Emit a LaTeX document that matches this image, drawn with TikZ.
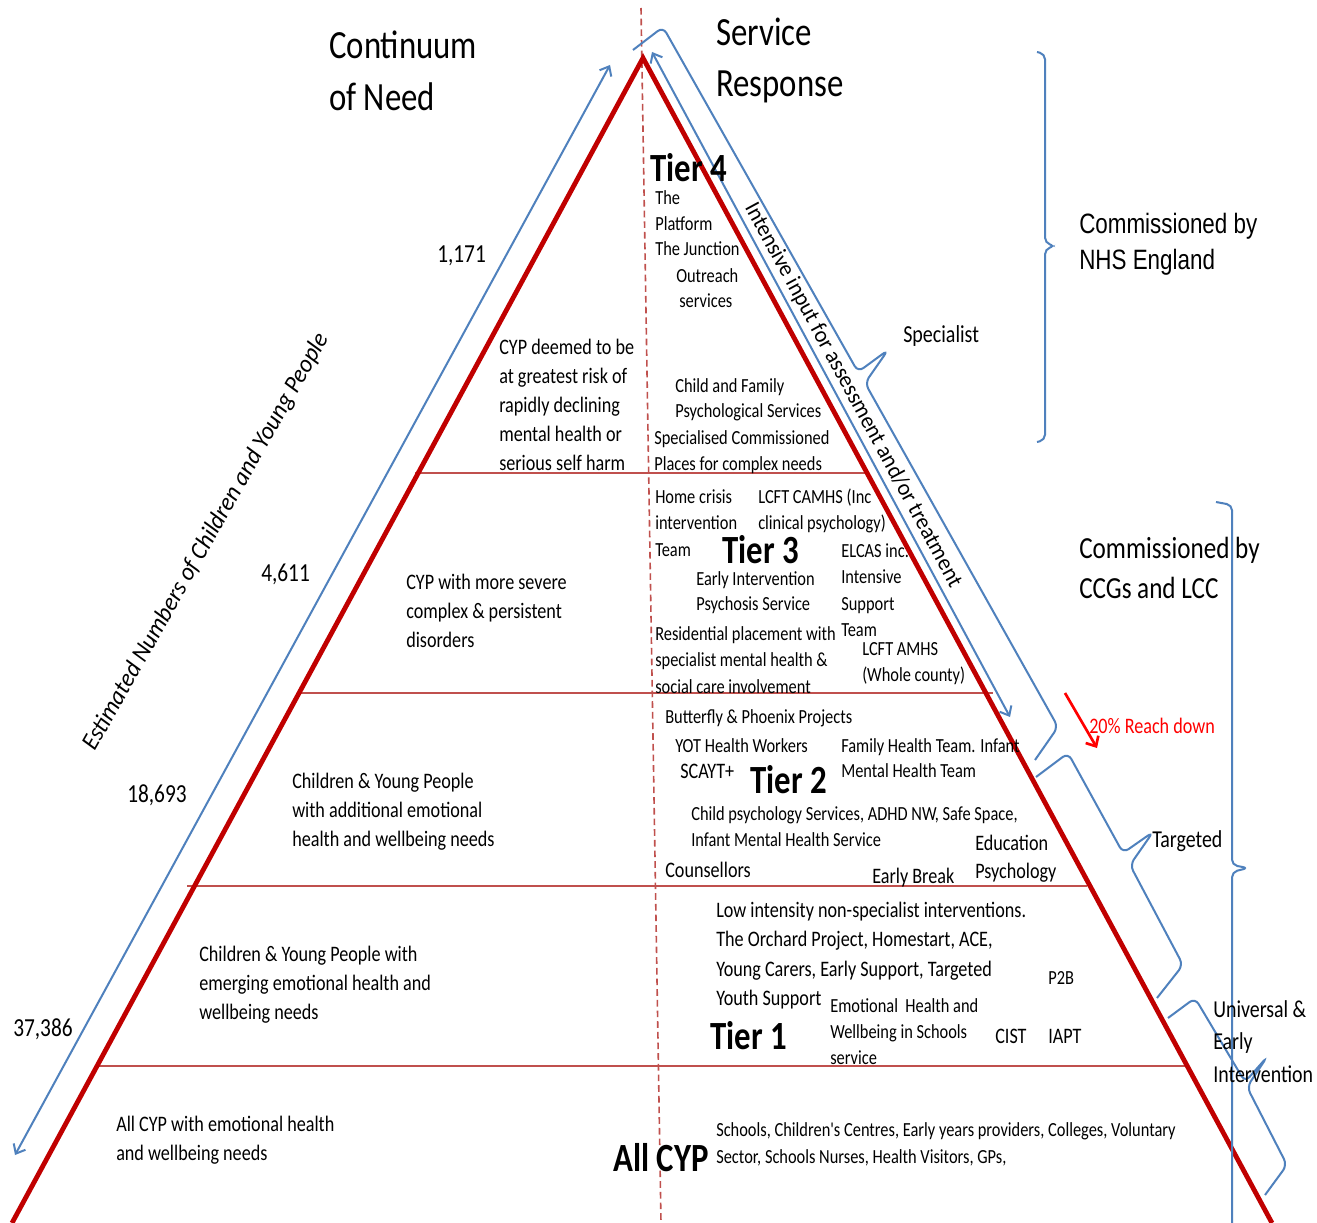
\documentclass[tikz,border=0pt]{standalone}
\usepackage{fontspec}
\setmainfont{Carlito}
\newfontfamily\cn[FakeStretch=0.82]{Carlito}
\newfontfamily\rt[FakeStretch=0.96]{Carlito}
\newfontfamily\ar[FakeStretch=0.8]{Liberation Sans}
\usetikzlibrary{arrows.meta}
\definecolor{tred}{HTML}{C00000}
\definecolor{lred}{HTML}{C0504D}
\definecolor{oblue}{HTML}{4F81BD}
\definecolor{brred}{HTML}{FF0000}
\newcommand\tlines[6]{\foreach \tline [count=\ix from 0] in {#6} {\node[#2] (#1\ix) at (#3,{#4+\ix*#5}) {\tline};}}
\tikzset{
  tx/.style={inner sep=0pt, anchor=base west, text=black},
  fa/.style={tx, font=\cn\fontsize{15}{18}\selectfont},
  fb/.style={tx, font=\cn\fontsize{16.6}{20}\selectfont},
  fnum/.style={tx, font=\cn\fontsize{19.5}{23}\selectfont},
  ftitle/.style={tx, font=\cn\fontsize{30}{36}\selectfont},
  ftier/.style={tx, font=\cn\bfseries\fontsize{30}{35}\selectfont},
  fspec/.style={tx, font=\cn\fontsize{18.3}{22}\selectfont},
  fnhs/.style={tx, font=\ar\fontsize{21}{25}\selectfont},
  fccg/.style={tx, font=\cn\fontsize{23}{27}\selectfont},
  flab/.style={tx, font=\cn\fontsize{18.2}{22}\selectfont},
  freach/.style={tx, font=\cn\fontsize{16.6}{20}\selectfont, text=brred},
  bline/.style={draw=oblue, line width=1.5pt},
  brace/.style={bline, rounded corners=5pt},
  barrow/.style={bline, {Straight Barb[length=6pt,width=10pt]}-{Straight Barb[length=6pt,width=10pt]}},
  tier/.style={draw=lred, line width=2pt},
}
\begin{document}
\begin{tikzpicture}[x=0.75pt,y=-0.75pt]
\useasboundingbox (0,0) rectangle (1317,1223);
\fill[white] (0,0) rectangle (1317,1223);

% tier separator lines
\coordinate (h1a) at (415,473);  \coordinate (h1b) at (866,473);
\coordinate (h2a) at (300,693);  \coordinate (h2b) at (993,693);
\coordinate (h3a) at (187,886);  \coordinate (h3b) at (1087,886);
\coordinate (h4a) at (95,1066);  \coordinate (h4b) at (1187,1066);
\draw[tier] (h1a) -- (h1b);
\draw[tier] (h2a) -- (h2b);
\draw[tier] (h3a) -- (h3b);
\draw[tier] (h4a) -- (h4b);

% dashed centre line
\coordinate (dtop) at (641,8);
\coordinate (dbot) at (661,1223);
\draw[lred, line width=1.2pt, dash pattern=on 5pt off 3pt] (dtop) -- (dbot);

% pyramid
\coordinate (apex) at (643,58);
\coordinate (bl) at (12,1223);
\coordinate (br) at (1272,1223);
\draw[tred, line width=3.6pt] (bl) -- (apex) -- (br);

% blue arrows
\coordinate (la1) at (15,1155); \coordinate (la2) at (610,65);
\draw[barrow] (la1) -- (la2);
\coordinate (ra1) at (652,52); \coordinate (ra2) at (1010,717);
\draw[barrow] (ra1) -- (ra2);

% red arrow
\coordinate (rr1) at (1065,693); \coordinate (rr2) at (1097,748);
\draw[brred, line width=2pt, -{Straight Barb[length=6pt,width=11pt]}] (rr1) -- (rr2);

% slanted braces
\draw[brace] (633,50) -- (663,27) -- (858,372) -- (888,350) -- (865,383) -- (1058,727) -- (1035,760);
\draw[brace] (1036,777) -- (1068,753) -- (1123,853) -- (1153,832) -- (1130,865) -- (1183,965) -- (1157,998);
\draw[brace] (1168,1018) -- (1195,998) -- (1245,1082) -- (1267,1057) -- (1247,1087) -- (1287,1165) -- (1265,1195);

% vertical braces
\draw[bline, rounded corners=4pt] (1037,52) -- (1045,54) -- (1045,243) -- (1055,246) -- (1045,249) -- (1045,440) -- (1037,442);
\draw[bline, rounded corners=4pt] (1216,502) -- (1232,505) -- (1232,865) -- (1248,868) -- (1232,872) -- (1232,1240);

% titles
\tlines{cont}{ftitle}{329}{59}{52}{Continuum,of Need}
\tlines{serv}{ftitle}{716}{46}{51}{Service,Response}

% numbers
\node[fnum] (n1) at (437,263) {1,171};
\node[fnum] (n2) at (261,581) {4,611};
\node[fnum] (n3) at (127,802) {18,693};
\node[fnum] (n4) at (13,1036) {37,386};

% left descriptions
\tlines{la}{fb}{499}{354}{29}{CYP deemed to be,at greatest risk of,rapidly declining,mental health or,serious self harm}
\tlines{lb}{fb}{406}{589}{29}{CYP with more severe,complex \& persistent,disorders}
\tlines{lc}{fb}{292}{788}{29}{Children \& Young People,with additional emotional,health and wellbeing needs}
\tlines{ld}{fb}{199}{961}{29}{Children \& Young People with,emerging emotional health and,wellbeing needs}
\tlines{le}{fb}{116}{1131}{29}{All CYP with emotional health,and wellbeing needs}

% tier labels
\node[ftier] (t4) at (650,182) {Tier 4};
\node[ftier] (t3) at (722,563) {Tier 3};
\node[ftier] (t2) at (750,793) {Tier 2};
\node[ftier] (t1) at (710,1049) {Tier 1};
\node[ftier] (t0) at (613,1171) {All CYP};

% tier 4 services
\tlines{sa}{fa}{655}{205}{25.5}{The,Platform,The Junction}
\node[fa] (sb0) at (676,282) {Outreach};
\node[fa] (sb1) at (679,308) {services};
\tlines{sc}{fa}{675}{392}{25}{Child and Family,Psychological Services}
\tlines{sd}{fa}{654}{444}{26}{Specialised Commissioned,Places for complex needs}

% tier 3 services
\tlines{se}{fa}{655}{503}{26.5}{Home crisis,intervention,Team}
\tlines{sf}{fa}{758}{503}{26.5}{LCFT CAMHS (Inc,clinical psychology)}
\tlines{sg}{fa}{841}{557}{26.5}{ELCAS inc.,Intensive,Support,Team}
\tlines{sh}{fa}{696}{585}{25}{Early Intervention,Psychosis Service}
\tlines{si}{fa}{655}{640}{26.5}{Residential placement with,specialist mental health \&,social care involvement}
\tlines{sj}{fa}{862}{655}{26}{LCFT AMHS,(Whole county)}

% tier 2 services
\node[fa] (sk) at (665,723) {Butterfly \& Phoenix Projects};
\node[fa] (sl) at (675,752) {YOT Health Workers};
\tlines{sm}{fa}{841}{752}{25}{Family Health Team. Infant,Mental Health Team}
\node[fb] (sn) at (680,778) {SCAYT+};
\tlines{so}{fa}{691}{820}{26}{{Child psychology Services, ADHD NW, Safe Space,},Infant Mental Health Service}
\tlines{sp}{fb}{975}{850}{28.5}{Education,Psychology}
\node[fb] (sq) at (665,877) {Counsellors};
\node[fb] (sr) at (872,883) {Early Break};

% tier 1 services
\tlines{ss}{fb}{716}{917}{29.5}{Low intensity non-specialist interventions.,{The Orchard Project, Homestart, ACE,},{Young Carers, Early Support, Targeted},Youth Support}
\tlines{st}{fa}{830}{1012}{26}{Emotional\ \ Health and,Wellbeing in Schools,service}
\node[fb] (su0) at (995,1043) {CIST};
\node[fb] (su1) at (1048,1043) {IAPT};
\node[fa] (su2) at (1048,984) {P2B};

% universal services
\tlines{sv}{fa}{716}{1136}{27}{{Schools, Children's Centres, Early years providers, Colleges, Voluntary},{Sector, Schools Nurses, Health Visitors, GPs,}}

% right-hand labels
\node[fspec] (spec) at (903,342) {Specialist};
\tlines{nhs}{fnhs}{1079}{234}{36}{Commissioned by,NHS England}
\tlines{ccg}{fccg}{1079}{558}{40}{Commissioned by,CCGs and LCC}
\node[freach] (reach) at (1089,733) {20\% Reach down};
\node[flab] (targ) at (1152,847) {Targeted};
\tlines{univ}{flab}{1213}{1017}{32.7}{Universal \&,Early,Intervention}

% rotated labels
\node[inner sep=0pt, anchor=center, rotate=-61.6, font=\rt\fontsize{17.2}{20}\selectfont] (intens) at (853,395) {Intensive input for assessment and/or treatment};
\node[inner sep=0pt, anchor=center, rotate=60.5, font=\rt\itshape\fontsize{18.6}{22}\selectfont] (est) at (206,542) {Estimated Numbers of Children and Young People};
\end{tikzpicture}
\end{document}
